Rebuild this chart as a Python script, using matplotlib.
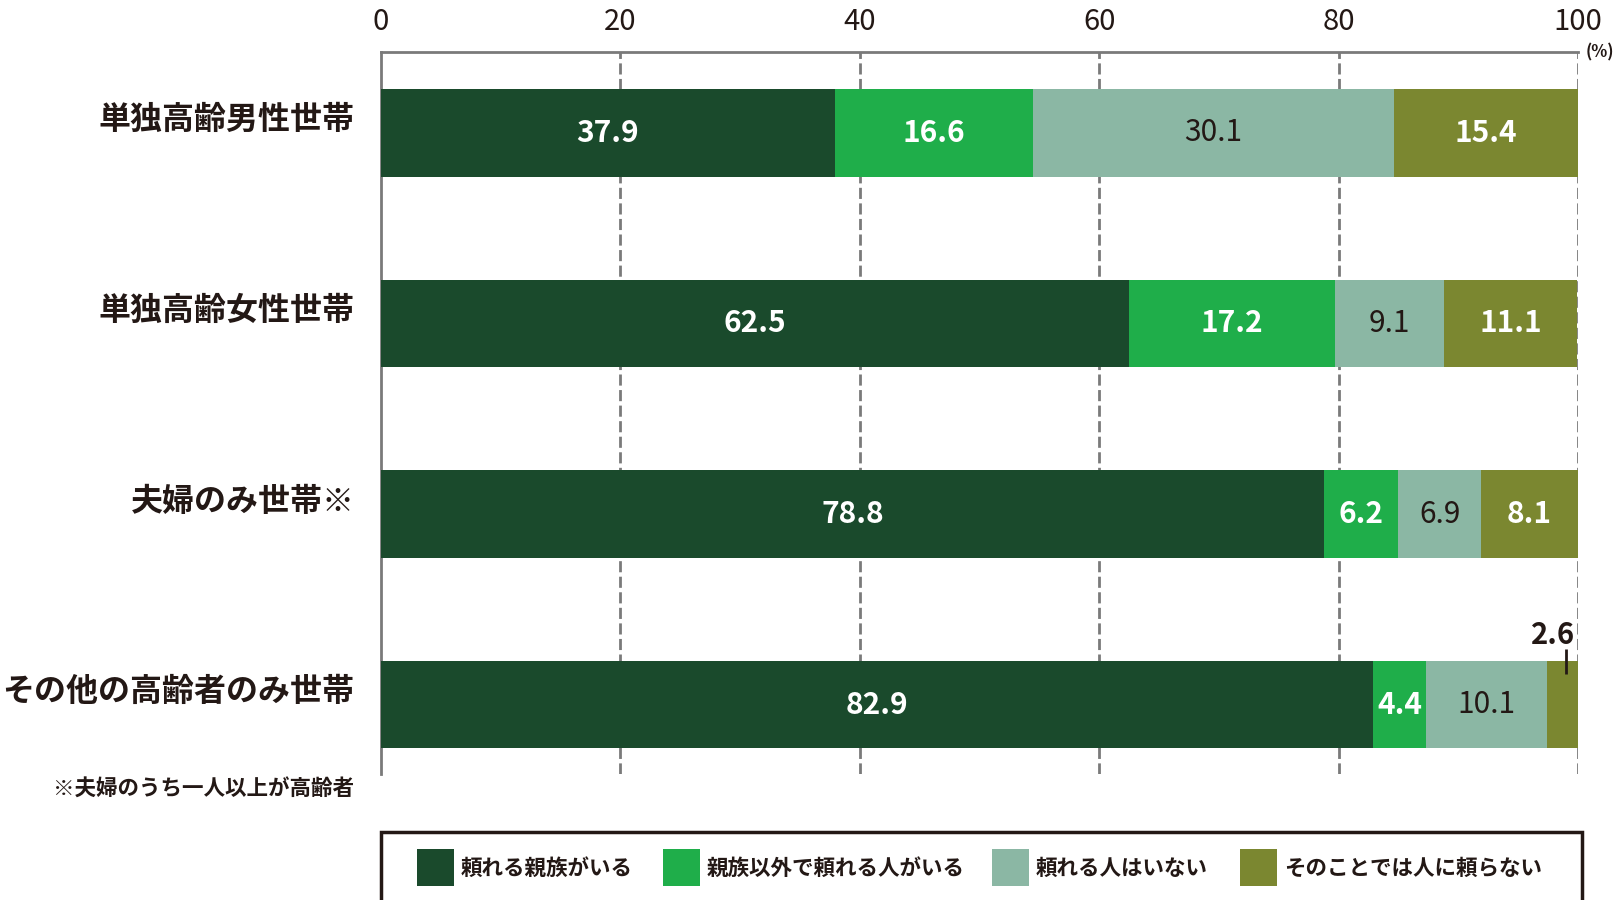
import matplotlib
matplotlib.use('Agg')
import matplotlib.pyplot as plt
from matplotlib.patches import Rectangle
from matplotlib.transforms import ScaledTranslation
import numpy as np

plt.rcParams['font.family'] = ['Noto Sans CJK JP', 'DejaVu Sans']

# ---- data ----
categories = ['単独高齢男性世帯', '単独高齢女性世帯', '夫婦のみ世帯※', 'その他の高齢者のみ世帯']
series_names = ['頼れる親族がいる', '親族以外で頼れる人がいる', '頼れる人はいない', 'そのことでは人に頼らない']
relatives = [37.9, 62.5, 78.8, 82.9]
non_relatives = [16.6, 17.2, 6.2, 4.4]
nobody = [30.1, 9.1, 6.9, 10.1]
not_rely = [15.4, 11.1, 8.1, 2.6]
xticks = [0, 20, 40, 60, 80, 100]
footnote = '※夫婦のうち一人以上が高齢者'
unit = '(%)'

# ---- style ----
colors = ['#1a4a2c', '#1fae4a', '#8bb7a4', '#7b8730']
txt_colors = ['white', 'white', '#231815', 'white']
txt_weights = ['bold', 'bold', 'normal', 'bold']
dark = '#231815'
grid_c = '#7a7a7a'

fig = plt.figure(figsize=(16.24, 9.0), dpi=100)
ax = fig.add_axes([381/1624, 1-774/900, (1578-381)/1624, (774-52)/900])

series = [relatives, non_relatives, nobody, not_rely]
y = np.arange(len(categories))
left = np.zeros(len(categories))
bar_h = 0.46
for si, vals in enumerate(series):
    vals = np.array(vals)
    ax.barh(y, vals, left=left, height=bar_h, color=colors[si], zorder=3, linewidth=0)
    for i, v in enumerate(vals):
        cx = left[i] + v / 2
        if v < 4:
            top = y[i] - bar_h / 2
            ax.plot([cx + 0.3, cx + 0.3], [top - 0.063, top + 0.068], color=dark, lw=2,
                    solid_capstyle='butt', zorder=5)
            ax.text(cx - 0.8, top - 0.135, f'{v:.1f}', ha='center', va='center', fontsize=21,
                    fontweight='bold', color=dark, zorder=5)
        else:
            ax.text(cx, y[i], f'{v:.1f}', ha='center', va='center', fontsize=21.5,
                    color=txt_colors[si], fontweight=txt_weights[si], zorder=4)
    left = left + vals

ax.set_xlim(0, 100)
ax.set_ylim(3.364, -0.424)

# grid
for t in xticks[1:]:
    ax.axvline(t, color=grid_c, lw=2, ls=(0, (4, 1.6)), zorder=1)

for s in ['bottom', 'right']:
    ax.spines[s].set_visible(False)
ax.spines['top'].set_color(grid_c)
ax.spines['top'].set_linewidth(2)
ax.spines['left'].set_color(grid_c)
ax.spines['left'].set_linewidth(2)

ax.xaxis.tick_top()
ax.set_xticks(xticks)
ax.set_xticklabels([str(t) for t in xticks], fontsize=21, color=dark)
ax.tick_params(axis='x', length=0, pad=11)

ax.set_yticks(y)
ax.set_yticklabels(categories, fontsize=23, fontweight='bold', color=dark)
ax.tick_params(axis='y', length=0, pad=19)
off = ScaledTranslation(0, 16/100, fig.dpi_scale_trans)
for lab in ax.get_yticklabels():
    lab.set_transform(lab.get_transform() + off)

# unit
fig.text(1600/1624, 1-52/900, unit, fontsize=12, color=dark, ha='center', va='center', fontweight='bold')

# footnote
fig.text(53/1624, 1-789/900, footnote, fontsize=15.5, color=dark, ha='left', va='center', fontweight='bold')

# legend box
fig.patches.append(Rectangle((381/1624, -0.05), 1201/1624, (900-832)/900 + 0.05,
                             transform=fig.transFigure, fill=False, edgecolor=dark, lw=2.5))
patch_x = [417, 663, 992, 1240]
for px, c, name in zip(patch_x, colors, series_names):
    fig.patches.append(Rectangle((px/1624, 1-886/900), 37/1624, 37/900,
                                 transform=fig.transFigure, facecolor=c, edgecolor='none'))
    fig.text((px + 44)/1624, 1-868/900, name, fontsize=15.5, fontweight='bold',
             color=dark, ha='left', va='center')

fig.savefig('out.png', dpi=100)
